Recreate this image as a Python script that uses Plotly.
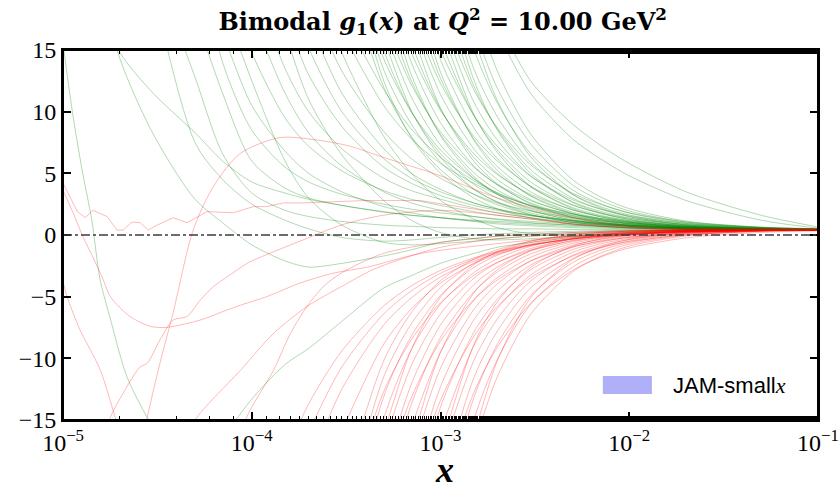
import plotly.graph_objects as go

# shared x grid for the replicas (log spaced)
X_GRID = [1e-5, 1.5e-5, 2e-5, 3e-5, 5e-5, 7e-5, 1e-4, 1.5e-4, 2e-4, 3e-4, 5e-4, 7e-4,
          1e-3, 1.5e-3, 2e-3, 3e-3, 5e-3, 7e-3, 1e-2, 2e-2, 5e-2, 1e-1]

X_TICKS = [1e-5, 1e-4, 1e-3, 1e-2, 1e-1]
X_TICK_TEXT = ["10<sup>−5</sup>", "10<sup>−4</sup>", "10<sup>−3</sup>", "10<sup>−2</sup>", "10<sup>−1</sup>"]

# positive-mode replicas.
# each list holds the values on the right-hand end of X_GRID
GREEN_REPLICAS = [
    [22, 14.3, 8.2, 2.9, 1.0, -0.8, -2.1, -2.6, -2.3, -1.7, -1.2, -0.6, -0.3, -0.1, 0.05, 0.2, 0.28, 0.35, 0.4, 0.4, 0.4],
    [19.5, 14.8, 11.5, 8.3, 6.0, 4.3, 3.4, 2.9, 2.4, 1.85, 1.6, 1.4, 1.15, 1.0, 0.85, 0.7, 0.62, 0.55, 0.45, 0.42, 0.4],
    [20, 7.5, 4.5, 2.5, 1.2, 0.5, -0.2, -0.5, -0.4, -0.2, 0.0, 0.1, 0.2, 0.3, 0.35, 0.4, 0.42, 0.4, 0.4],
    [22, 12.8, 6.6, 3.4, 2.0, 1.5, 1.1, 0.8, 0.7, 0.6, 0.55, 0.5, 0.5, 0.45, 0.45, 0.42, 0.4, 0.4, 0.4],
    [18, 11.5, 6.0, 3.8, 3.0, 2.4, 1.9, 1.6, 1.4, 1.2, 1.1, 0.95, 0.8, 0.7, 0.62, 0.5, 0.45, 0.4],
    [24, 14, 8.5, 5.5, 4.3, 3.3, 2.5, 2.1, 1.8, 1.5, 1.3, 1.1, 0.9, 0.8, 0.7, 0.55, 0.45, 0.4],
    [16.5, 10.5, 6.8, 5.0, 3.5, 2.3, 1.8, 1.4, 1.1, 0.9, 0.75, 0.6, 0.55, 0.5, 0.45, 0.42, 0.4],
    [19, 12.5, 6.0, 3.0, 0.8, -0.6, -0.8, -0.7, -0.5, -0.3, -0.1, 0.1, 0.2, 0.3, 0.38, 0.4, 0.4],
    [22, 14.8, 9.5, 7.2, 5.2, 3.6, 2.9, 2.4, 1.9, 1.6, 1.3, 1.0, 0.85, 0.75, 0.55, 0.45, 0.4],
    [-16.5, -13.3, -10.5, -9.2, -7.0, -4.3, -3.3, -2.3, -1.5, -1.0, -0.6, -0.2, -0.05, 0.1, 0.3, 0.38, 0.4],
    [18, 11.5, 8.3, 5.6, 3.5, 2.6, 2.0, 1.5, 1.25, 1.0, 0.8, 0.7, 0.6, 0.5, 0.42, 0.4],
    [21, 13.5, 10, 7, 4.6, 3.6, 2.9, 2.2, 1.8, 1.4, 1.05, 0.9, 0.75, 0.55, 0.45, 0.4],
    [16.5, 11, 6.5, 2.8, 1.2, 0.2, -0.3, -0.4, -0.3, -0.1, 0.05, 0.15, 0.3, 0.38, 0.4],
    [18, 13, 8.8, 5.5, 4.2, 3.2, 2.4, 2.0, 1.55, 1.15, 0.95, 0.8, 0.58, 0.45, 0.4],
    [21, 15.2, 10, 6.2, 4.6, 3.5, 2.6, 2.1, 1.6, 1.2, 1.0, 0.82, 0.6, 0.46, 0.4],
    [17.5, 11.5, 7.0, 5.0, 3.7, 2.6, 2.1, 1.6, 1.15, 0.95, 0.8, 0.58, 0.46, 0.4],
    [19.5, 13.3, 8.4, 6.2, 4.6, 3.3, 2.6, 1.95, 1.4, 1.15, 0.95, 0.65, 0.48, 0.4],
    [22, 14.8, 8.0, 5.0, 2.8, 1.3, 0.6, 0.1, -0.1, 0.0, 0.1, 0.3, 0.38, 0.4],
    [16.5, 10.5, 7.8, 5.8, 4.2, 3.3, 2.4, 1.7, 1.35, 1.1, 0.72, 0.5, 0.42],
    [18, 11.8, 8.6, 6.3, 4.4, 3.4, 2.4, 1.6, 1.25, 1.0, 0.66, 0.48, 0.4],
    [22.4, 12.0, 8.0, 5.3, 3.3, 2.45, 1.64, 1.05, 0.83, 0.68, 0.52, 0.44, 0.42],
    [25.1, 13.4, 9.0, 5.9, 3.7, 2.7, 1.79, 1.13, 0.88, 0.71, 0.53, 0.44, 0.42],
    [28.1, 15.0, 10.0, 6.6, 4.1, 3.0, 1.96, 1.22, 0.94, 0.75, 0.55, 0.45, 0.42],
    [16.8, 11.2, 7.3, 4.6, 3.3, 2.15, 1.32, 1.01, 0.79, 0.56, 0.45, 0.42],
    [18.8, 12.5, 8.15, 5.06, 3.65, 2.37, 1.43, 1.08, 0.84, 0.58, 0.46, 0.42],
    [21.0, 14.0, 9.1, 5.6, 4.05, 2.6, 1.56, 1.16, 0.89, 0.61, 0.47, 0.43],
    [23.5, 15.6, 10.2, 6.3, 4.5, 2.87, 1.70, 1.26, 0.95, 0.63, 0.47, 0.43],
    [17.5, 11.4, 7.0, 5.0, 3.2, 1.86, 1.36, 1.02, 0.66, 0.48, 0.44],
    [19.6, 12.7, 7.8, 5.55, 3.5, 2.03, 1.48, 1.09, 0.69, 0.49, 0.44],
    [21.9, 14.2, 8.7, 6.2, 3.9, 2.23, 1.61, 1.17, 0.73, 0.50, 0.45],
    [24.6, 15.9, 9.7, 6.9, 4.3, 2.46, 1.76, 1.27, 0.77, 0.52, 0.45],
    [17.8, 10.8, 7.7, 4.8, 2.7, 1.93, 1.38, 0.81, 0.53, 0.46],
    [19.9, 12.1, 8.6, 5.3, 3.0, 2.11, 1.49, 0.86, 0.55, 0.46],
    [22.2, 13.5, 9.6, 5.9, 3.3, 2.32, 1.63, 0.92, 0.57, 0.47],
    [24.9, 15.1, 10.7, 6.6, 3.66, 2.56, 1.78, 0.98, 0.59, 0.48],
    [16.9, 11.9, 7.4, 4.06, 2.82, 1.95, 1.05, 0.61, 0.49],
    [18.9, 13.3, 8.2, 4.5, 3.11, 2.14, 1.13, 0.63, 0.50],
    [25.1, 12.5, 7.9, 5.0, 3.0, 2.13, 1.38, 0.88, 0.70, 0.58, 0.47, 0.42, 0.40],
    [16.0, 10.1, 6.3, 3.75, 2.64, 1.67, 1.02, 0.79, 0.63, 0.49, 0.43, 0.41],
    [20.6, 13.0, 8.05, 4.74, 3.3, 2.04, 1.2, 0.9, 0.7, 0.52, 0.43, 0.41],
    [16.7, 10.3, 6.0, 4.15, 2.52, 1.44, 1.05, 0.79, 0.55, 0.44, 0.42],
    [21.5, 13.2, 7.7, 5.25, 3.15, 1.75, 1.24, 0.9, 0.59, 0.45, 0.42],
    [17.0, 9.8, 6.7, 3.95, 2.14, 1.49, 1.05, 0.65, 0.47, 0.43],
    [21.9, 12.6, 8.5, 5.0, 2.65, 1.81, 1.25, 0.72, 0.49, 0.43],
    [16.1, 10.9, 6.35, 3.3, 2.22, 1.5, 0.82, 0.52, 0.44],
    [24.8, 14.3, 10.0, 6.9, 4.55, 3.43, 2.34, 1.5, 1.16, 0.92, 0.64, 0.49, 0.44],
    [17.4, 12.2, 8.35, 5.5, 4.1, 2.78, 1.75, 1.33, 1.03, 0.69, 0.51, 0.45],
    [21.2, 14.8, 10.1, 6.6, 4.9, 3.3, 2.05, 1.54, 1.17, 0.76, 0.53, 0.46],
    [18.0, 12.3, 8.0, 6.0, 3.96, 2.42, 1.8, 1.35, 0.84, 0.56, 0.48],
    [22.0, 15.0, 9.7, 7.2, 4.76, 2.87, 2.12, 1.56, 0.94, 0.6, 0.49],
    [18.3, 11.8, 8.7, 5.7, 3.4, 2.5, 1.8, 1.06, 0.64, 0.51],
    [17.5, 12.5, 9.0, 7.3, 5.8, 3.5, 1.6, 0.65],
    [16.5, 11.5, 7.8, 6.2, 4.8, 2.8, 1.2, 0.55],
]

# negative-mode replicas, same convention
RED_REPLICAS = [
    [-17.9, -13.7, -9.4, -5.75, -4.13, -2.87, -1.86, -1.33, -0.79, -0.33, -0.13, 0.03, 0.23, 0.35, 0.40],
    [-16.0, -10.7, -6.4, -4.54, -3.1, -1.97, -1.39, -0.8, -0.32, -0.11, 0.05, 0.24, 0.36, 0.41],
    [-18.9, -12.5, -7.3, -5.1, -3.4, -2.13, -1.48, -0.84, -0.32, -0.1, 0.06, 0.26, 0.37, 0.42],
    [-15.9, -8.85, -6.0, -3.9, -2.33, -1.57, -0.85, -0.29, -0.06, 0.1, 0.29, 0.38, 0.42],
    [-20.8, -10.2, -6.3, -3.7, -1.96, -1.19, -0.5, -0.03, 0.15, 0.26, 0.38, 0.43, 0.44],
    [-23.5, -11.5, -7.2, -4.27, -2.28, -1.41, -0.62, -0.09, 0.11, 0.24, 0.37, 0.43, 0.44],
    [-26.7, -13.1, -8.2, -4.9, -2.64, -1.65, -0.76, -0.16, 0.06, 0.21, 0.36, 0.42, 0.44],
    [-30.3, -14.9, -9.3, -5.6, -3.05, -1.93, -0.92, -0.24, 0.01, 0.18, 0.34, 0.42, 0.44],
    [-17.0, -10.6, -6.4, -3.51, -2.24, -1.1, -0.33, -0.05, 0.14, 0.33, 0.42, 0.44],
    [-19.3, -12.1, -7.3, -4.03, -2.6, -1.31, -0.43, -0.11, 0.10, 0.31, 0.41, 0.43],
    [-21.9, -13.75, -8.3, -4.62, -3.0, -1.54, -0.55, -0.19, 0.06, 0.30, 0.41, 0.43],
    [-15.6, -9.5, -5.3, -3.46, -1.81, -0.68, -0.27, 0.01, 0.28, 0.40, 0.43],
    [-17.8, -10.8, -6.05, -3.97, -2.1, -0.83, -0.36, -0.05, 0.25, 0.39, 0.43],
    [-20.2, -12.3, -6.9, -4.56, -2.44, -1.0, -0.47, -0.12, 0.23, 0.39, 0.42],
    [-22.9, -13.96, -7.9, -5.2, -2.82, -1.19, -0.59, -0.19, 0.20, 0.38, 0.42],
    [-15.9, -9.0, -5.97, -3.25, -1.41, -0.73, -0.28, 0.16, 0.37, 0.42],
    [-18.0, -10.2, -6.81, -3.74, -1.65, -0.89, -0.37, 0.13, 0.36, 0.41],
    [-20.5, -11.6, -7.8, -4.3, -1.93, -1.06, -0.48, 0.08, 0.34, 0.41],
    [-23.2, -13.2, -8.85, -4.92, -2.25, -1.26, -0.61, 0.04, 0.33, 0.40],
    [-26.3, -15.0, -10.1, -5.63, -2.6, -1.49, -0.74, -0.02, 0.32, 0.40],
    [-17.1, -11.5, -6.44, -3.0, -1.75, -0.9, -0.08, 0.30, 0.39],
    [-23.3, -12.7, -8.5, -5.5, -3.27, -2.23, -1.23, -0.48, -0.18, 0.03, 0.26, 0.38, 0.42],
    [-19.7, -13.2, -8.6, -5.24, -3.65, -2.12, -0.97, -0.52, -0.19, 0.16, 0.35, 0.40],
    [-20.4, -13.4, -8.23, -5.8, -3.47, -1.72, -1.03, -0.53, 0.01, 0.30, 0.38],
    [-20.7, -12.8, -9.1, -5.54, -2.87, -1.81, -1.05, -0.23, 0.21, 0.34],
    [-16.2, -9.3, -5.04, -2.42, -1.36, -0.5, 0.03, 0.21, 0.31, 0.40, 0.44, 0.45],
    [-17.1, -9.5, -4.72, -2.81, -1.26, -0.3, 0.01, 0.2, 0.37, 0.43, 0.45],
    [-17.4, -8.9, -5.43, -2.63, -0.91, -0.34, 0.0, 0.30, 0.42, 0.45],
    [-16.4, -10.2, -5.1, -2.0, -1.0, -0.36, 0.19, 0.40, 0.44],
]

# odd replicas at small x, each with its own x points
green_steep_x = [1.0e-5, 1.12e-5, 1.26e-5, 1.42e-5, 1.57e-5, 1.78e-5, 2.18e-5, 2.79e-5, 3.26e-5]
green_steep_y = [15.5, 10.0, 5.3, 1.2, -3.6, -6.8, -11.5, -14.8, -16.5]

red_edge_x = [1.0e-5, 1.05e-5, 1.23e-5, 1.57e-5, 1.89e-5, 2.05e-5]
red_edge_y = [-3.8, -5.0, -7.7, -10.9, -14.8, -16.5]

red_dip_x = [1.0e-5, 1.13e-5, 1.28e-5, 1.44e-5, 1.63e-5, 1.78e-5, 2.26e-5, 2.89e-5, 3.47e-5, 4.17e-5,
             5.32e-5, 6.79e-5, 8.67e-5, 1.2e-4, 1.8e-4, 2.7e-4, 4.1e-4, 7.8e-4, 2e-3, 5e-3, 1e-2, 2e-2, 1e-1]
red_dip_y = [3.6, 1.8, -0.2, -1.8, -3.6, -5.0, -6.6, -7.4, -7.5, -7.3,
             -6.9, -6.3, -5.7, -5.0, -3.9, -3.1, -2.6, -1.5, -0.7, -0.1, 0.2, 0.35, 0.4]

red_wiggle_x = [1.0e-5, 1.19e-5, 1.31e-5, 1.44e-5, 1.71e-5, 1.93e-5, 2.08e-5, 2.32e-5, 2.56e-5, 2.82e-5,
                3.15e-5, 3.83e-5, 4.54e-5, 5.8e-5, 7.96e-5, 1.02e-4, 1.2e-4, 1.47e-4, 1.8e-4, 2.7e-4,
                4.1e-4, 7.8e-4, 2e-3, 5e-3, 1e-2, 2e-2, 1e-1]
red_wiggle_y = [4.2, 1.9, 1.4, 2.0, 1.5, 0.4, 0.4, 1.05, 1.0, 0.4,
                0.8, 1.4, 1.0, 1.9, 1.8, 2.3, 2.3, 2.6, 2.6, 2.7,
                2.8, 2.8, 1.8, 0.9, 0.55, 0.45, 0.4]

red_hump_x = [2.56e-5, 2.79e-5, 3.26e-5, 3.83e-5, 4.89e-5, 6.24e-5, 8.67e-5, 1.41e-4, 2.22e-4,
              3.32e-4, 4.97e-4, 1e-3, 2e-3, 5e-3, 1e-2, 2e-2, 1e-1]
red_hump_y = [-17.5, -14.8, -10.4, -6.3, 0.4, 3.9, 6.6, 7.9, 7.7,
              7.2, 6.3, 4.8, 3.0, 1.4, 0.7, 0.5, 0.4]

red_rise_x = [1.67e-5, 1.78e-5, 2.18e-5, 2.56e-5, 2.79e-5, 3.26e-5, 3.83e-5, 4.54e-5, 5.32e-5, 6.24e-5,
              7.4e-5, 9.44e-5, 1.11e-4, 1.8e-4, 2.97e-4, 4.97e-4, 1e-3, 2e-3, 5e-3, 1e-2, 2e-2, 1e-1]
red_rise_y = [-16.5, -14.8, -12.3, -10.7, -10.4, -8.5, -6.9, -6.6, -5.3, -4.2,
              -3.4, -2.3, -1.8, -0.5, 0.8, 1.6, 2.0, 1.6, 0.9, 0.6, 0.45, 0.4]

red_late_a_x = [4.43e-5, 5.0e-5, 8.67e-5, 1.3e-4, 1.96e-4, 2.97e-4, 4.4e-4, 6.65e-4, 1e-3, 2e-3, 5e-3, 1e-2, 2e-2, 1e-1]
red_late_a_y = [-17.0, -15.0, -11.0, -8.0, -5.8, -4.2, -2.8, -1.8, -1.0, -0.3, 0.1, 0.3, 0.38, 0.4]

red_late_b_x = [8.67e-5, 9.8e-5, 1.3e-4, 1.6e-4, 1.96e-4, 2.39e-4, 2.97e-4, 4.97e-4, 1e-3, 2e-3, 5e-3, 1e-2, 1e-1]
red_late_b_y = [-16.0, -14.2, -11.0, -8.0, -5.8, -4.2, -3.1, -1.5, -0.6, -0.1, 0.2, 0.35, 0.4]

GREEN = "rgba(0,128,0,0.3)"
RED = "rgba(255,0,0,0.28)"
SERIF = "Liberation Serif"

fig = go.Figure()


def add_curve(xs, ys, color, shape="spline"):
    fig.add_trace(go.Scatter(
        x=xs, y=ys, mode="lines",
        line=dict(color=color, width=1, shape=shape, smoothing=0.8),
        hoverinfo="skip", showlegend=False,
    ))


# green replicas first, red on top (like the original)
for ys in GREEN_REPLICAS:
    add_curve(X_GRID[-len(ys):], ys, GREEN)
add_curve(green_steep_x, green_steep_y, GREEN)

for ys in RED_REPLICAS:
    add_curve(X_GRID[-len(ys):], ys, RED)
add_curve(red_edge_x, red_edge_y, RED)
add_curve(red_dip_x, red_dip_y, RED)
add_curve(red_wiggle_x, red_wiggle_y, RED, shape="linear")
add_curve(red_hump_x, red_hump_y, RED)
add_curve(red_rise_x, red_rise_y, RED)
add_curve(red_late_a_x, red_late_a_y, RED)
add_curve(red_late_b_x, red_late_b_y, RED)

axis_common = dict(
    showline=True, linewidth=2, linecolor="black", mirror="allticks",
    ticks="inside", ticklen=8, tickwidth=1.5, tickcolor="black",
    showgrid=False, zeroline=False, automargin=False,
    tickfont=dict(family=SERIF, size=24, color="black"),
)

fig.update_layout(
    width=839, height=494,
    margin=dict(l=63, r=21, t=50, b=74),
    paper_bgcolor="white", plot_bgcolor="white",
    title=dict(
        text="<b>Bimodal <i>g</i><sub>1</sub>(<i>x</i>) at <i>Q</i><sup>2</sup> = 10.00 GeV<sup>2</sup></b>",
        font=dict(family="DejaVu Serif", size=24, color="black"),
        xref="paper", x=0.503, xanchor="center",
        yref="container", y=1 - 22 / 494, yanchor="middle",
    ),
    xaxis=dict(
        type="log", range=[-5.0004, -0.9996],
        tickvals=X_TICKS, ticktext=X_TICK_TEXT,
        minor=dict(ticks="inside", ticklen=4, tickwidth=1, tickcolor="black", showgrid=False),
        **axis_common,
    ),
    yaxis=dict(range=[-15, 15], dtick=5, **axis_common),
    shapes=[
        # y = 0 reference line
        dict(type="line", xref="paper", x0=0, x1=1, yref="y", y0=0, y1=0,
             line=dict(color="#3c3c3c", width=1.5, dash="dashdot")),
        # frame around the plot area
        dict(type="rect", xref="paper", yref="paper", x0=0, x1=1, y0=0, y1=1,
             line=dict(color="black", width=2), fillcolor="rgba(0,0,0,0)"),
        # legend patch
        dict(type="rect", xref="paper", yref="paper",
             x0=0.715, x1=0.780, y0=0.070, y1=0.119,
             fillcolor="#b0b0f8", line=dict(width=0)),
    ],
    annotations=[
        dict(text="JAM-small<span style='font-family:Liberation Serif'><i>x</i></span>",
             xref="paper", yref="paper", x=0.805, y=0.094,
             xanchor="left", yanchor="middle", showarrow=False,
             font=dict(family="Liberation Sans", size=22, color="black")),
        dict(text="<b><i>x</i></b>", xref="paper", yref="paper",
             x=0.505, y=-0.135, xanchor="center", yanchor="middle", showarrow=False,
             font=dict(family=SERIF, size=36, color="black")),
    ],
)

# the page body has a default 8px margin; drop it so the figure sits at the corner
fig.write_html("out.html", config={"displayModeBar": False},
               post_script="document.body.style.margin='0';")
